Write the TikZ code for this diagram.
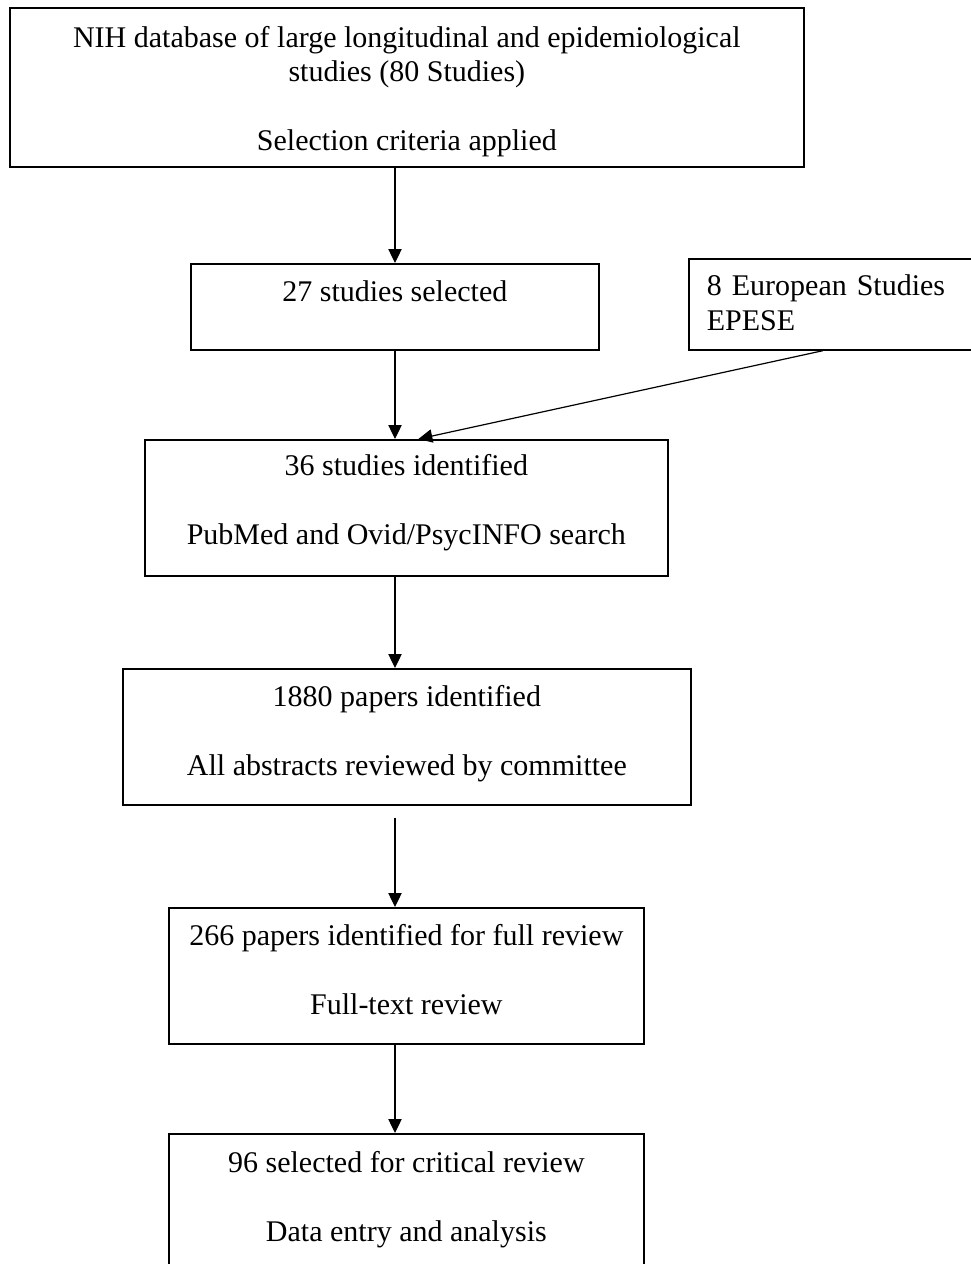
\documentclass[tikz,border=0pt]{standalone}
\usepackage{fontspec}
\setmainfont{Liberation Serif}
\usetikzlibrary{arrows.meta}

\begin{document}
\begin{tikzpicture}[x=0.75pt, y=-0.75pt,
    box/.style={draw, line width=1.3pt, inner sep=0pt, anchor=north west, align=center,
      font=\fontsize{22.5}{25.9}\selectfont, text height=80.25pt, text depth=21.75pt},
    arr/.style={line width=0.9pt, -{Triangle[length=10.5pt, width=10pt]}}]
  \useasboundingbox (0,0) rectangle (971,1264);
  \clip (0,0) rectangle (971,1264);
  \coordinate (col) at (395,0);

  % main column of boxes
  \node[box, minimum width=595.5pt, text height=107.25pt, text depth=12pt] (nih) at (9,7)
    {NIH database of large longitudinal and epidemiological\\studies (80 Studies)\\[25.9pt]Selection criteria applied};
  \node[box, minimum width=306pt, text height=28.5pt, text depth=36pt] (sel) at (190,263) {27 studies selected};
  \node[box, minimum width=392.25pt, text height=78.75pt, text depth=23.25pt] (ident) at (144,439)
    {36 studies identified\\[25.9pt]PubMed and Ovid/PsycINFO search};
  \node[box, minimum width=426pt] (abs) at (122,668)
    {1880 papers identified\\[25.9pt]All abstracts reviewed by committee};
  \node[box, minimum width=356.25pt] (full) at (168,907)
    {266 papers identified for full review\\[25.9pt]Full-text review};
  \node[box, minimum width=356.25pt, text height=81pt, text depth=31.5pt] (crit) at (168,1133)
    {96 selected for critical review\\[25.9pt]Data entry and analysis};

  % side box (runs off the right edge)
  \node[box, align=left, inner xsep=13.5pt, text width=198pt, text height=27.75pt, text depth=40.5pt] (eur) at (688,258)
    {8 European Studies\\EPESE};

  % arrows
  \draw[arr] (nih.south -| col) -- (sel.north -| col);
  \draw[arr] (sel.south -| col) -- (ident.north -| col);
  \draw[arr] ([xshift=101pt]eur.south west) -- ([xshift=9pt]ident.north);
  \draw[arr] (ident.south -| col) -- (abs.north -| col);
  \draw[arr] ([yshift=-9pt]abs.south -| col) -- (full.north -| col);
  \draw[arr] (full.south -| col) -- (crit.north -| col);
\end{tikzpicture}
\end{document}
